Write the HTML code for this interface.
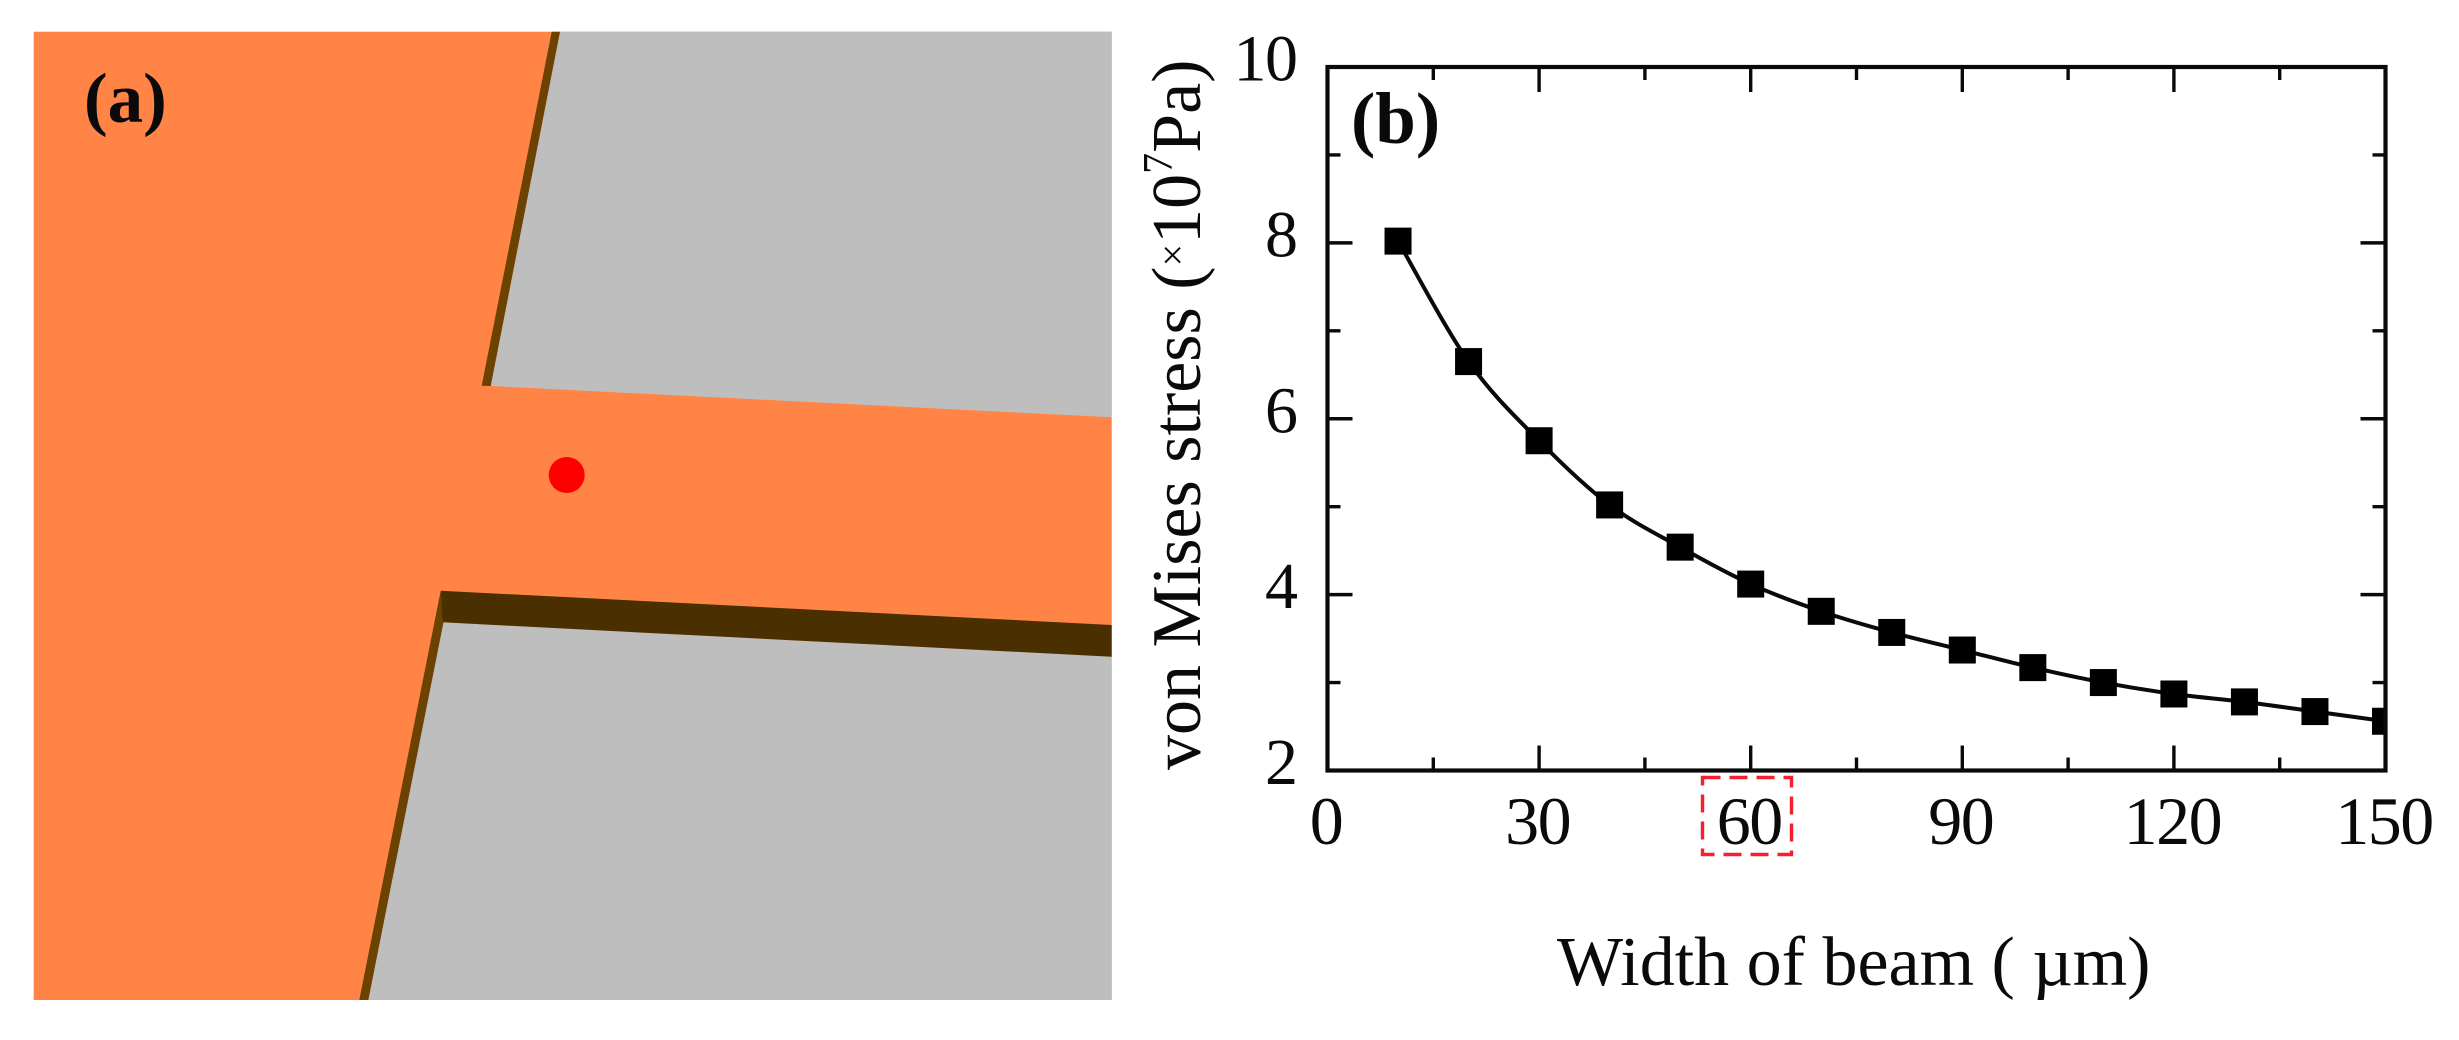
<!DOCTYPE html>
<html lang="en">
<head>
<meta charset="utf-8">
<title>Beam stress figure</title>
<style>
  html, body { margin: 0; padding: 0; background: #fff; }
  body { width: 2459px; height: 1040px; overflow: hidden; }
  svg { display: block; }
  text { font-family: "Liberation Serif", "DejaVu Serif", serif; fill: #0a0a0a; }
</style>
</head>
<body>
<svg id="figure" xmlns="http://www.w3.org/2000/svg" width="2459" height="1040" viewBox="0 0 2459 1040">
  <defs>
    <clipPath id="plot-clip"><rect x="1327.5" y="67" width="1058" height="703.5"></rect></clipPath>
  </defs>
  <rect x="0" y="0" width="2459" height="1040" fill="#ffffff"></rect>

  <g id="panel-a">
    <rect x="33.7" y="31.7" width="1078" height="968.3" fill="#ff8445"></rect>
    <polygon points="560,31.7 1111.7,31.7 1111.7,417.3 490.7,386" fill="#bebebe"></polygon>
    <polygon points="551.7,31.7 560,31.7 490.7,386 481.7,385.7" fill="#6b4200"></polygon>
    <polygon points="442.7,622.3 1111.7,656.7 1111.7,1000 368.3,1000" fill="#bebebe"></polygon>
    <polygon points="440.7,590.7 443.5,622.3 368.3,1000 359.3,1000" fill="#6b4200"></polygon>
    <polygon points="440.7,590.7 1111.7,625 1111.7,656.7 442.7,622.3" fill="#4a3000"></polygon>
    <circle cx="566.7" cy="475" r="18" fill="#ff0000"></circle>
    <text x="84" y="122" font-size="71" font-weight="bold">(a)</text>
  </g>

  <g id="panel-b">
    <path id="series-line" fill="none" stroke="#0a0a0a" stroke-width="4" stroke-linejoin="round" clip-path="url(#plot-clip)"></path>
    <g id="markers" clip-path="url(#plot-clip)"></g>
    <g id="ticks"></g>
    <rect x="1327.5" y="67" width="1058" height="703.5" fill="none" stroke="#0a0a0a" stroke-width="4.2"></rect>
    <g id="tick-labels"></g>
    <rect x="1702.5" y="777.5" width="89" height="77" fill="none" stroke="#f5202f" stroke-width="3.4" stroke-dasharray="18 9"></rect>
    <text x="1351" y="143" font-size="73" font-weight="bold">(b)</text>
    <text x="1557" y="985" font-size="70">Width of beam ( µm)</text>
    <text transform="translate(1200 770) rotate(-90)" font-size="70">von Mises stress (<tspan font-size="40" dy="-14">×</tspan><tspan dy="14">10</tspan><tspan font-size="42" dy="-28">7</tspan><tspan dy="28">Pa)</tspan></text>
  </g>
</svg>

<script>
// Chart data
var beamWidths = [10, 20, 30, 40, 50, 60, 70, 80, 90, 100, 110, 120, 130, 140, 150];
var stressValues = [8.02, 6.65, 5.75, 5.02, 4.54, 4.12, 3.81, 3.57, 3.37, 3.17, 3.0, 2.87, 2.78, 2.67, 2.56];
var xMajorTicks = [0, 30, 60, 90, 120, 150];
var xMinorTicks = [15, 45, 75, 105, 135];
var yMajorTicks = [2, 4, 6, 8, 10];
var yMinorTicks = [3, 5, 7, 9];

var SVG_NS = 'http://www.w3.org/2000/svg';
var plotLeft = 1327.5, plotRight = 2385.5, plotTop = 67, plotBottom = 770.5;
var xMin = 0, xMax = 150, yMin = 2, yMax = 10;

function xScale(v) { return plotLeft + (v - xMin) / (xMax - xMin) * (plotRight - plotLeft); }
function yScale(v) { return plotBottom - (v - yMin) / (yMax - yMin) * (plotBottom - plotTop); }

function tickLine(parent, x1, y1, x2, y2) {
  var el = document.createElementNS(SVG_NS, 'line');
  el.setAttribute('x1', x1);
  el.setAttribute('y1', y1);
  el.setAttribute('x2', x2);
  el.setAttribute('y2', y2);
  el.setAttribute('stroke', '#0a0a0a');
  el.setAttribute('stroke-width', '3.4');
  
  
  parent.appendChild(el);
}

var ticksGroup = document.getElementById('ticks');
var majorLen = 25, minorLen = 13;

xMajorTicks.forEach(function (v) {
  tickLine(ticksGroup, xScale(v), plotBottom, xScale(v), plotBottom - majorLen);
  tickLine(ticksGroup, xScale(v), plotTop, xScale(v), plotTop + majorLen);
});
xMinorTicks.forEach(function (v) {
  tickLine(ticksGroup, xScale(v), plotBottom, xScale(v), plotBottom - minorLen);
  tickLine(ticksGroup, xScale(v), plotTop, xScale(v), plotTop + minorLen);
});
yMajorTicks.forEach(function (v) {
  tickLine(ticksGroup, plotLeft, yScale(v), plotLeft + majorLen, yScale(v));
  tickLine(ticksGroup, plotRight, yScale(v), plotRight - majorLen, yScale(v));
});
yMinorTicks.forEach(function (v) {
  tickLine(ticksGroup, plotLeft, yScale(v), plotLeft + minorLen, yScale(v));
  tickLine(ticksGroup, plotRight, yScale(v), plotRight - minorLen, yScale(v));
});

var labelsGroup = document.getElementById('tick-labels');

xMajorTicks.forEach(function (v) {
  var el = document.createElementNS(SVG_NS, 'text');
  el.setAttribute('x', xScale(v) - 1.5);
  el.setAttribute('y', plotBottom + 73.5);
  el.setAttribute('font-size', '68');
  el.setAttribute('letter-spacing', '-1.5');
  el.setAttribute('text-anchor', 'middle');
  
  
  el.textContent = String(v);
  labelsGroup.appendChild(el);
});

yMajorTicks.forEach(function (v) {
  var el = document.createElementNS(SVG_NS, 'text');
  el.setAttribute('x', plotLeft - 31);
  el.setAttribute('y', yScale(v) + 13.5);
  el.setAttribute('font-size', '66');
  el.setAttribute('letter-spacing', '-1.5');
  el.setAttribute('text-anchor', 'end');
  
  
  el.textContent = String(v);
  labelsGroup.appendChild(el);
});

// Smooth curve through the data points (Catmull-Rom converted to cubic Beziers)
var pts = beamWidths.map(function (w, i) {
  return [xScale(w), yScale(stressValues[i])];
});
var d = 'M' + pts[0][0] + ' ' + pts[0][1];
for (var i = 0; i < pts.length - 1; i++) {
  var p0 = pts[Math.max(i - 1, 0)];
  var p1 = pts[i];
  var p2 = pts[i + 1];
  var p3 = pts[Math.min(i + 2, pts.length - 1)];
  d += ' C' + (p1[0] + (p2[0] - p0[0]) / 6) + ' ' + (p1[1] + (p2[1] - p0[1]) / 6) +
       ' ' + (p2[0] - (p3[0] - p1[0]) / 6) + ' ' + (p2[1] - (p3[1] - p1[1]) / 6) +
       ' ' + p2[0] + ' ' + p2[1];
}
document.getElementById('series-line').setAttribute('d', d);

var markersGroup = document.getElementById('markers');
var markerSize = 27;
beamWidths.forEach(function (w, i) {
  var el = document.createElementNS(SVG_NS, 'rect');
  el.setAttribute('x', xScale(w) - markerSize / 2);
  el.setAttribute('y', yScale(stressValues[i]) - markerSize / 2);
  el.setAttribute('width', markerSize);
  el.setAttribute('height', markerSize);
  el.setAttribute('fill', '#000000');
  
  
  markersGroup.appendChild(el);
});
</script>
</body>
</html>
